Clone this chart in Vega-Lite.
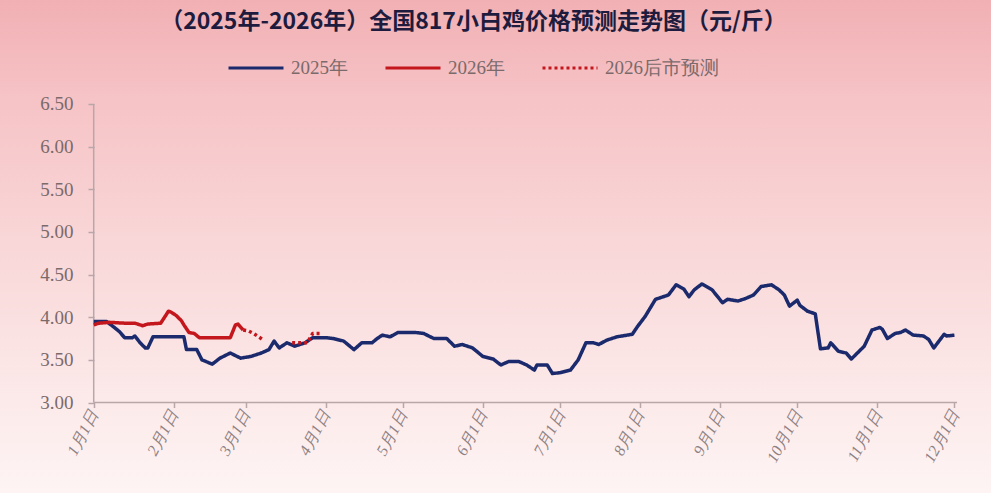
{
  "$schema": "https://vega.github.io/schema/vega-lite/v6.json",
  "width": 991,
  "height": 493,
  "autosize": "none",
  "padding": 0,
  "background": "#fef4f4",
  "config": {
    "view": {
      "stroke": null,
      "fill": {
        "gradient": "linear", "x1": 0, "y1": 0, "x2": 0, "y2": 1,
        "stops": [
          {"offset": 0, "color": "#f1b0b4"},
          {"offset": 0.2, "color": "#f6c3c6"},
          {"offset": 0.5, "color": "#f9d7d8"},
          {"offset": 0.8, "color": "#fce9e9"},
          {"offset": 1, "color": "#fef4f4"}
        ]
      }
    },
    "axisX": {
      "orient": "bottom", "offset": -90.5, "title": null, "grid": false, "domain": false,
      "format": "%-m月%-d日",
      "labelAngle": -62,
      "labelFont": "Liberation Serif",
      "labelFontStyle": "italic",
      "labelFontSize": 16,
      "labelColor": "#8e8183",
      "labelPadding": 4,
      "labelOverlap": false,
      "tickColor": "#b8a6a8",
      "tickWidth": 1.5,
      "tickSize": 5
    },
    "axisY": {
      "orient": "left", "offset": -94, "title": null, "grid": false, "domain": false,
      "format": ".2f",
      "labelFont": "Liberation Serif",
      "labelFontSize": 19,
      "labelColor": "#7b6a6b",
      "labelPadding": 15,
      "tickColor": "#b8a6a8",
      "tickWidth": 1.5,
      "tickSize": 6
    },
    "legend": {
      "orient": "none", "legendX": 227, "legendY": 39, "direction": "horizontal", "title": null,
      "padding": 0, "symbolType": "stroke", "symbolSize": 3025, "symbolStrokeWidth": 3,
      "labelFont": "Liberation Serif", "labelFontSize": 19, "labelColor": "#7a6a6b",
      "labelOffset": 6, "columnPadding": 31
    }
  },
  "title": {
    "text": "（2025年-2026年）全国817小白鸡价格预测走势图（元/斤）",
    "font": "Noto Sans CJK SC",
    "fontSize": 23,
    "fontWeight": "bold",
    "color": "#1e1c3e",
    "anchor": "middle",
    "frame": "group",
    "dx": -22,
    "offset": -34
  },
  "datasets": {
    "one": [{"k": 1}],
    "main": [
      {"d": "2025-01-01", "v": 3.95, "s": "2025年", "g": "a"},
      {"d": "2025-01-06", "v": 3.95, "s": "2025年", "g": "a"},
      {"d": "2025-01-09", "v": 3.88, "s": "2025年", "g": "a"},
      {"d": "2025-01-11", "v": 3.83, "s": "2025年", "g": "a"},
      {"d": "2025-01-13", "v": 3.76, "s": "2025年", "g": "a"},
      {"d": "2025-01-16", "v": 3.76, "s": "2025年", "g": "a"},
      {"d": "2025-01-17", "v": 3.78, "s": "2025年", "g": "a"},
      {"d": "2025-01-19", "v": 3.70, "s": "2025年", "g": "a"},
      {"d": "2025-01-21", "v": 3.64, "s": "2025年", "g": "a"},
      {"d": "2025-01-22", "v": 3.64, "s": "2025年", "g": "a"},
      {"d": "2025-01-24", "v": 3.77, "s": "2025年", "g": "a"},
      {"d": "2025-02-05", "v": 3.77, "s": "2025年", "g": "a"},
      {"d": "2025-02-06", "v": 3.62, "s": "2025年", "g": "a"},
      {"d": "2025-02-10", "v": 3.62, "s": "2025年", "g": "a"},
      {"d": "2025-02-12", "v": 3.50, "s": "2025年", "g": "a"},
      {"d": "2025-02-16", "v": 3.45, "s": "2025年", "g": "a"},
      {"d": "2025-02-19", "v": 3.52, "s": "2025年", "g": "a"},
      {"d": "2025-02-23", "v": 3.58, "s": "2025年", "g": "a"},
      {"d": "2025-02-27", "v": 3.52, "s": "2025年", "g": "a"},
      {"d": "2025-03-03", "v": 3.54, "s": "2025年", "g": "a"},
      {"d": "2025-03-07", "v": 3.58, "s": "2025年", "g": "a"},
      {"d": "2025-03-10", "v": 3.62, "s": "2025年", "g": "a"},
      {"d": "2025-03-12", "v": 3.72, "s": "2025年", "g": "a"},
      {"d": "2025-03-14", "v": 3.64, "s": "2025年", "g": "a"},
      {"d": "2025-03-17", "v": 3.70, "s": "2025年", "g": "a"},
      {"d": "2025-03-20", "v": 3.66, "s": "2025年", "g": "a"},
      {"d": "2025-03-24", "v": 3.70, "s": "2025年", "g": "a"},
      {"d": "2025-03-27", "v": 3.76, "s": "2025年", "g": "a"},
      {"d": "2025-04-01", "v": 3.76, "s": "2025年", "g": "a"},
      {"d": "2025-04-04", "v": 3.75, "s": "2025年", "g": "a"},
      {"d": "2025-04-08", "v": 3.72, "s": "2025年", "g": "a"},
      {"d": "2025-04-12", "v": 3.62, "s": "2025年", "g": "a"},
      {"d": "2025-04-15", "v": 3.70, "s": "2025年", "g": "a"},
      {"d": "2025-04-19", "v": 3.70, "s": "2025年", "g": "a"},
      {"d": "2025-04-21", "v": 3.75, "s": "2025年", "g": "a"},
      {"d": "2025-04-23", "v": 3.79, "s": "2025年", "g": "a"},
      {"d": "2025-04-26", "v": 3.77, "s": "2025年", "g": "a"},
      {"d": "2025-04-29", "v": 3.82, "s": "2025年", "g": "a"},
      {"d": "2025-05-03", "v": 3.82, "s": "2025年", "g": "a"},
      {"d": "2025-05-06", "v": 3.82, "s": "2025年", "g": "a"},
      {"d": "2025-05-09", "v": 3.81, "s": "2025年", "g": "a"},
      {"d": "2025-05-13", "v": 3.75, "s": "2025年", "g": "a"},
      {"d": "2025-05-18", "v": 3.75, "s": "2025年", "g": "a"},
      {"d": "2025-05-21", "v": 3.66, "s": "2025年", "g": "a"},
      {"d": "2025-05-24", "v": 3.68, "s": "2025年", "g": "a"},
      {"d": "2025-05-28", "v": 3.64, "s": "2025年", "g": "a"},
      {"d": "2025-06-01", "v": 3.54, "s": "2025年", "g": "a"},
      {"d": "2025-06-05", "v": 3.51, "s": "2025年", "g": "a"},
      {"d": "2025-06-08", "v": 3.44, "s": "2025年", "g": "a"},
      {"d": "2025-06-11", "v": 3.48, "s": "2025年", "g": "a"},
      {"d": "2025-06-15", "v": 3.48, "s": "2025年", "g": "a"},
      {"d": "2025-06-18", "v": 3.44, "s": "2025年", "g": "a"},
      {"d": "2025-06-21", "v": 3.38, "s": "2025年", "g": "a"},
      {"d": "2025-06-22", "v": 3.44, "s": "2025年", "g": "a"},
      {"d": "2025-06-26", "v": 3.44, "s": "2025年", "g": "a"},
      {"d": "2025-06-28", "v": 3.34, "s": "2025年", "g": "a"},
      {"d": "2025-07-01", "v": 3.35, "s": "2025年", "g": "a"},
      {"d": "2025-07-05", "v": 3.38, "s": "2025年", "g": "a"},
      {"d": "2025-07-08", "v": 3.50, "s": "2025年", "g": "a"},
      {"d": "2025-07-11", "v": 3.70, "s": "2025年", "g": "a"},
      {"d": "2025-07-14", "v": 3.70, "s": "2025年", "g": "a"},
      {"d": "2025-07-16", "v": 3.68, "s": "2025年", "g": "a"},
      {"d": "2025-07-19", "v": 3.73, "s": "2025年", "g": "a"},
      {"d": "2025-07-23", "v": 3.77, "s": "2025年", "g": "a"},
      {"d": "2025-07-27", "v": 3.79, "s": "2025年", "g": "a"},
      {"d": "2025-07-29", "v": 3.80, "s": "2025年", "g": "a"},
      {"d": "2025-07-31", "v": 3.89, "s": "2025年", "g": "a"},
      {"d": "2025-08-03", "v": 4.01, "s": "2025年", "g": "a"},
      {"d": "2025-08-07", "v": 4.21, "s": "2025年", "g": "a"},
      {"d": "2025-08-12", "v": 4.26, "s": "2025年", "g": "a"},
      {"d": "2025-08-15", "v": 4.38, "s": "2025年", "g": "a"},
      {"d": "2025-08-18", "v": 4.33, "s": "2025年", "g": "a"},
      {"d": "2025-08-20", "v": 4.24, "s": "2025年", "g": "a"},
      {"d": "2025-08-22", "v": 4.32, "s": "2025年", "g": "a"},
      {"d": "2025-08-25", "v": 4.39, "s": "2025年", "g": "a"},
      {"d": "2025-08-29", "v": 4.32, "s": "2025年", "g": "a"},
      {"d": "2025-09-02", "v": 4.17, "s": "2025年", "g": "a"},
      {"d": "2025-09-04", "v": 4.21, "s": "2025年", "g": "a"},
      {"d": "2025-09-08", "v": 4.19, "s": "2025年", "g": "a"},
      {"d": "2025-09-11", "v": 4.22, "s": "2025年", "g": "a"},
      {"d": "2025-09-14", "v": 4.26, "s": "2025年", "g": "a"},
      {"d": "2025-09-17", "v": 4.36, "s": "2025年", "g": "a"},
      {"d": "2025-09-21", "v": 4.38, "s": "2025年", "g": "a"},
      {"d": "2025-09-24", "v": 4.32, "s": "2025年", "g": "a"},
      {"d": "2025-09-26", "v": 4.26, "s": "2025年", "g": "a"},
      {"d": "2025-09-28", "v": 4.13, "s": "2025年", "g": "a"},
      {"d": "2025-10-01", "v": 4.20, "s": "2025年", "g": "a"},
      {"d": "2025-10-02", "v": 4.14, "s": "2025年", "g": "a"},
      {"d": "2025-10-05", "v": 4.07, "s": "2025年", "g": "a"},
      {"d": "2025-10-08", "v": 4.04, "s": "2025年", "g": "a"},
      {"d": "2025-10-10", "v": 3.63, "s": "2025年", "g": "a"},
      {"d": "2025-10-13", "v": 3.64, "s": "2025年", "g": "a"},
      {"d": "2025-10-14", "v": 3.70, "s": "2025年", "g": "a"},
      {"d": "2025-10-17", "v": 3.60, "s": "2025年", "g": "a"},
      {"d": "2025-10-20", "v": 3.58, "s": "2025年", "g": "a"},
      {"d": "2025-10-22", "v": 3.51, "s": "2025年", "g": "a"},
      {"d": "2025-10-25", "v": 3.60, "s": "2025年", "g": "a"},
      {"d": "2025-10-27", "v": 3.66, "s": "2025年", "g": "a"},
      {"d": "2025-10-30", "v": 3.85, "s": "2025年", "g": "a"},
      {"d": "2025-11-02", "v": 3.88, "s": "2025年", "g": "a"},
      {"d": "2025-11-03", "v": 3.86, "s": "2025年", "g": "a"},
      {"d": "2025-11-05", "v": 3.75, "s": "2025年", "g": "a"},
      {"d": "2025-11-08", "v": 3.81, "s": "2025年", "g": "a"},
      {"d": "2025-11-10", "v": 3.82, "s": "2025年", "g": "a"},
      {"d": "2025-11-12", "v": 3.85, "s": "2025年", "g": "a"},
      {"d": "2025-11-15", "v": 3.79, "s": "2025年", "g": "a"},
      {"d": "2025-11-19", "v": 3.78, "s": "2025年", "g": "a"},
      {"d": "2025-11-21", "v": 3.74, "s": "2025年", "g": "a"},
      {"d": "2025-11-23", "v": 3.64, "s": "2025年", "g": "a"},
      {"d": "2025-11-27", "v": 3.80, "s": "2025年", "g": "a"},
      {"d": "2025-11-28", "v": 3.78, "s": "2025年", "g": "a"},
      {"d": "2025-12-01", "v": 3.79, "s": "2025年", "g": "a"},
      {"d": "2025-01-01", "v": 3.91, "s": "2026年", "g": "b"},
      {"d": "2025-01-03", "v": 3.93, "s": "2026年", "g": "b"},
      {"d": "2025-01-07", "v": 3.94, "s": "2026年", "g": "b"},
      {"d": "2025-01-13", "v": 3.93, "s": "2026年", "g": "b"},
      {"d": "2025-01-17", "v": 3.93, "s": "2026年", "g": "b"},
      {"d": "2025-01-20", "v": 3.90, "s": "2026年", "g": "b"},
      {"d": "2025-01-22", "v": 3.92, "s": "2026年", "g": "b"},
      {"d": "2025-01-27", "v": 3.93, "s": "2026年", "g": "b"},
      {"d": "2025-01-30", "v": 4.07, "s": "2026年", "g": "b"},
      {"d": "2025-01-31", "v": 4.06, "s": "2026年", "g": "b"},
      {"d": "2025-02-02", "v": 4.02, "s": "2026年", "g": "b"},
      {"d": "2025-02-04", "v": 3.96, "s": "2026年", "g": "b"},
      {"d": "2025-02-05", "v": 3.91, "s": "2026年", "g": "b"},
      {"d": "2025-02-07", "v": 3.82, "s": "2026年", "g": "b"},
      {"d": "2025-02-09", "v": 3.81, "s": "2026年", "g": "b"},
      {"d": "2025-02-11", "v": 3.76, "s": "2026年", "g": "b"},
      {"d": "2025-02-23", "v": 3.76, "s": "2026年", "g": "b"},
      {"d": "2025-02-25", "v": 3.91, "s": "2026年", "g": "b"},
      {"d": "2025-02-26", "v": 3.92, "s": "2026年", "g": "b"},
      {"d": "2025-02-28", "v": 3.85, "s": "2026年", "g": "b"},
      {"d": "2025-02-28", "v": 3.85, "s": "2026后市预测", "g": "c1"},
      {"d": "2025-03-02", "v": 3.84, "s": "2026后市预测", "g": "c1"},
      {"d": "2025-03-04", "v": 3.81, "s": "2026后市预测", "g": "c1"},
      {"d": "2025-03-06", "v": 3.77, "s": "2026后市预测", "g": "c1"},
      {"d": "2025-03-08", "v": 3.73, "s": "2026后市预测", "g": "c1"},
      {"d": "2025-03-19", "v": 3.70, "s": "2026后市预测", "g": "c2"},
      {"d": "2025-03-22", "v": 3.70, "s": "2026后市预测", "g": "c2"},
      {"d": "2025-03-25", "v": 3.70, "s": "2026后市预测", "g": "c2"},
      {"d": "2025-03-26", "v": 3.76, "s": "2026后市预测", "g": "c2"},
      {"d": "2025-03-27", "v": 3.81, "s": "2026后市预测", "g": "c2"},
      {"d": "2025-03-30", "v": 3.81, "s": "2026后市预测", "g": "c2"}
    ]
  },
  "layer": [
    {
      "data": {"name": "one"},
      "mark": {"type": "rule", "color": "#b8a6a8", "strokeWidth": 1.5},
      "encoding": {
        "x": {"datum": {"year": 2025, "month": 1, "date": 1, "utc": true}, "type": "temporal",
          "scale": {"type": "utc", "domain": [{"year": 2024, "month": 11, "date": 25, "hours": 15, "minutes": 22, "utc": true}, {"year": 2025, "month": 12, "date": 15, "hours": 4, "minutes": 34, "utc": true}]},
          "axis": {
            "values": [
              {"year": 2025, "month": 1, "date": 1, "utc": true},
              {"year": 2025, "month": 2, "date": 1, "utc": true},
              {"year": 2025, "month": 3, "date": 1, "utc": true},
              {"year": 2025, "month": 4, "date": 1, "utc": true},
              {"year": 2025, "month": 5, "date": 1, "utc": true},
              {"year": 2025, "month": 6, "date": 1, "utc": true},
              {"year": 2025, "month": 7, "date": 1, "utc": true},
              {"year": 2025, "month": 8, "date": 1, "utc": true},
              {"year": 2025, "month": 9, "date": 1, "utc": true},
              {"year": 2025, "month": 10, "date": 1, "utc": true},
              {"year": 2025, "month": 11, "date": 1, "utc": true},
              {"year": 2025, "month": 12, "date": 1, "utc": true}
            ]
          }
        },
        "y": {"datum": 3, "type": "quantitative",
          "scale": {"domain": [1.9389, 7.7194], "nice": false, "zero": false},
          "axis": {"values": [3, 3.5, 4, 4.5, 5, 5.5, 6, 6.5]}
        },
        "y2": {"datum": 6.5}
      }
    },
    {
      "data": {"name": "one"},
      "mark": {"type": "rule", "color": "#b8a6a8", "strokeWidth": 1.5},
      "encoding": {
        "x": {"datum": {"year": 2025, "month": 1, "date": 1, "utc": true}, "type": "temporal"},
        "x2": {"datum": {"year": 2025, "month": 12, "date": 2, "utc": true}},
        "y": {"datum": 3, "type": "quantitative"}
      }
    },
    {
      "data": {"name": "main"},
      "transform": [{"filter": "datum.s === '2025年'"}],
      "mark": {"type": "line", "strokeWidth": 3.5, "strokeJoin": "round"},
      "encoding": {
        "x": {"field": "d", "type": "temporal"},
        "y": {"field": "v", "type": "quantitative"},
        "color": {"field": "s", "type": "nominal",
          "scale": {"domain": ["2025年", "2026年", "2026后市预测"], "range": ["#1b2a6c", "#c3161d", "#c3161d"]}},
        "strokeDash": {"field": "s", "type": "nominal",
          "scale": {"domain": ["2025年", "2026年", "2026后市预测"], "range": [[1, 0], [1, 0], [3, 3]]}},
        "detail": {"field": "g"}
      }
    },
    {
      "data": {"name": "main"},
      "transform": [{"filter": "datum.s !== '2025年'"}],
      "mark": {"type": "line", "strokeWidth": 3.5, "strokeJoin": "round"},
      "encoding": {
        "x": {"field": "d", "type": "temporal"},
        "y": {"field": "v", "type": "quantitative"},
        "color": {"field": "s", "type": "nominal",
          "scale": {"domain": ["2025年", "2026年", "2026后市预测"], "range": ["#1b2a6c", "#c3161d", "#c3161d"]}},
        "strokeDash": {"field": "s", "type": "nominal",
          "scale": {"domain": ["2025年", "2026年", "2026后市预测"], "range": [[1, 0], [1, 0], [3, 3]]}},
        "detail": {"field": "g"}
      }
    }
  ]
}
